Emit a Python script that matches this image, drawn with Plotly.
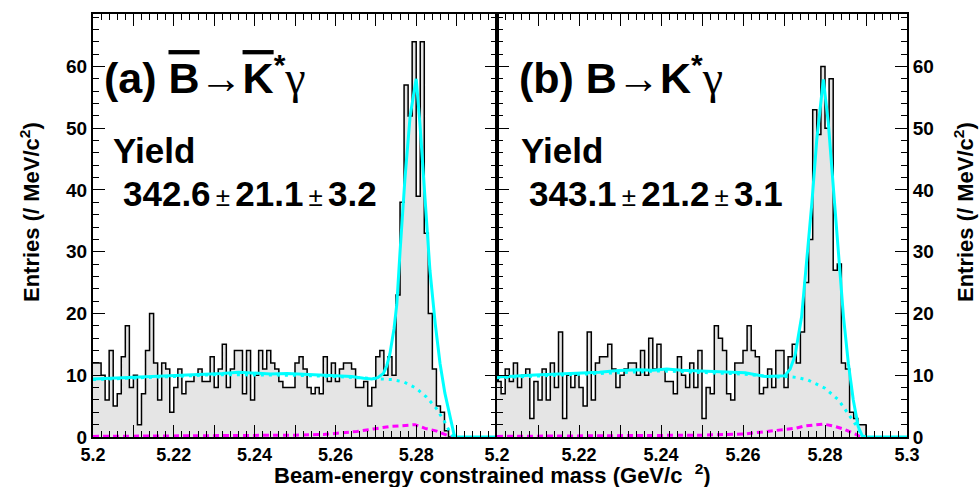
import plotly.graph_objects as go

# ---------------- data ----------------
bin_start = 5.200
bin_width = 0.001

counts_a = [12, 12, 10, 6, 14, 5, 7, 13, 18, 8,
            10, 2, 7, 14, 20, 12, 6, 12, 11, 4,
            8, 11, 7, 9, 9, 10, 11, 9, 9, 13,
            8, 11, 15, 8, 11, 14, 14, 7, 14, 6,
            10, 14, 11, 14, 12, 11, 9, 8, 8, 8,
            12, 13, 11, 8, 7, 8, 7, 13, 9, 12,
            9, 11, 12, 12, 11, 8, 8, 9, 5, 8,
            13, 14, 10, 13, 10, 23, 38, 57, 52, 64,
            39, 64, 33, 20, 11, 5, 4, 1, 0, 0,
            0, 0, 0, 0, 0, 0, 0, 0, 0, 0]

counts_b = [9, 7, 11, 9, 12, 8, 10, 11, 3, 9,
            6, 11, 6, 12, 8, 17, 3, 10, 8, 10,
            8, 5, 17, 6, 12, 13, 13, 15, 11, 8,
            10, 11, 12, 12, 10, 14, 10, 16, 11, 15,
            11, 9, 9, 7, 13, 10, 8, 12, 8, 14,
            3, 8, 7, 18, 16, 14, 7, 6, 12, 12,
            14, 18, 14, 13, 7, 8, 11, 8, 14, 14,
            8, 13, 15, 12, 17, 25, 32, 53, 49, 60,
            50, 58, 27, 28, 12, 11, 4, 3, 2, 2,
            0, 0, 0, 0, 0, 0, 0, 0, 0, 0]

# total fit (solid cyan)
fit_a_x = [5.2000, 5.2040, 5.2080, 5.2120, 5.2160, 5.2200, 5.2240, 5.2280, 5.2320, 5.2360,
           5.2400, 5.2440, 5.2480, 5.2520, 5.2560, 5.2600, 5.2640, 5.2670, 5.2690, 5.2705,
           5.2719, 5.2727, 5.2735, 5.2745, 5.2752, 5.2760, 5.2772, 5.2785, 5.2800, 5.2809,
           5.2822, 5.2834, 5.2847, 5.2859, 5.2871, 5.2884, 5.2894, 5.2900, 5.3000]
fit_a_y = [9.4, 9.5, 9.6, 9.7, 9.9, 10.0, 10.1, 10.2, 10.3, 10.5,
           10.3, 10.2, 10.3, 10.2, 10.0, 9.9, 9.8, 9.5, 9.4, 9.6,
           10.3, 11.5, 13.5, 17.5, 21.5, 30.0, 41.7, 52.0, 58.0, 50.9,
           39.0, 27.0, 18.4, 11.9, 7.1, 3.3, 0.3, 0.0, 0.0]
fit_b_x = [5.2000, 5.2040, 5.2093, 5.2150, 5.2198, 5.2250, 5.2296, 5.2345, 5.2380, 5.2414,
           5.2450, 5.2483, 5.2550, 5.2605, 5.2654, 5.2686, 5.2702, 5.2715, 5.2727, 5.2743,
           5.2755, 5.2768, 5.2780, 5.2796, 5.2808, 5.2820, 5.2833, 5.2845, 5.2857, 5.2869,
           5.2881, 5.2891, 5.2900, 5.3000]
fit_b_y = [9.7, 9.8, 10.05, 10.2, 10.3, 10.5, 10.75, 10.9, 10.8, 11.0,
           10.8, 10.7, 10.6, 10.4, 9.8, 9.8, 9.9, 11.0, 13.2, 19.5,
           28.0, 37.9, 48.2, 57.9, 50.9, 40.6, 29.2, 19.5, 11.9, 6.0,
           1.7, 0.15, 0.0, 0.0]

# combinatorial background (dotted cyan)
bkg_a_x = [5.200, 5.210, 5.220, 5.230, 5.240, 5.250, 5.260, 5.265, 5.270, 5.274,
           5.277, 5.280, 5.2825, 5.285, 5.287, 5.2885, 5.2892]
bkg_a_y = [9.3, 9.5, 9.8, 10.1, 10.1, 10.0, 9.8, 9.6, 9.4, 9.3,
           8.9, 7.9, 6.5, 4.6, 2.5, 0.6, 0.0]
bkg_b_x = [5.200, 5.220, 5.240, 5.260, 5.268, 5.2711, 5.2735, 5.2759, 5.2780, 5.2800,
           5.2833, 5.2857, 5.2876, 5.2892]
bkg_b_y = [9.6, 10.2, 10.7, 10.2, 9.7, 9.8, 9.6, 9.2, 8.6, 7.9,
           6.0, 3.8, 1.9, 0.0]

# peaking background (dashed magenta)
peak_a_x = [5.200, 5.220, 5.240, 5.250, 5.257, 5.2611, 5.2653, 5.2694, 5.2735, 5.2760,
            5.2797, 5.2822, 5.2851, 5.2876, 5.2888]
peak_a_y = [0.1, 0.15, 0.25, 0.3, 0.4, 0.6, 0.9, 1.3, 1.7, 1.8,
            2.0, 1.4, 0.95, 0.3, 0.0]
peak_b_x = [5.200, 5.220, 5.240, 5.250, 5.2605, 5.2678, 5.2727, 5.2751, 5.2796, 5.2825,
            5.2849, 5.2873, 5.2888]
peak_b_y = [0.1, 0.15, 0.25, 0.3, 0.5, 1.1, 1.4, 1.8, 2.1, 1.7,
            1.2, 0.5, 0.0]

x_tick_vals = [5.20, 5.21, 5.22, 5.23, 5.24, 5.25, 5.26, 5.27, 5.28, 5.29, 5.30]
x_tick_text_a = ["5.2", " ", "5.22", " ", "5.24", " ", "5.26", " ", "5.28", " ", " "]
x_tick_text_b = ["5.2", " ", "5.22", " ", "5.24", " ", "5.26", " ", "5.28", " ", "5.3"]
y_tick_vals = [0, 10, 20, 30, 40, 50, 60]

# ---------------- figure ----------------
W, H = 979, 487
def px(x):
    return x / W
def py(y):
    return 1 - y / H

edges = [bin_start + bin_width * i for i in range(len(counts_a) + 1)]

fig = go.Figure()
CYAN = "#00ffff"
MAG = "#ff00ff"

for counts, fx, fy, bx, by, mx, my, xa, ya in [
        (counts_a, fit_a_x, fit_a_y, bkg_a_x, bkg_a_y, peak_a_x, peak_a_y, "x", "y"),
        (counts_b, fit_b_x, fit_b_y, bkg_b_x, bkg_b_y, peak_b_x, peak_b_y, "x2", "y2")]:
    fig.add_trace(go.Scatter(x=edges, y=counts + [counts[-1]], mode="lines",
                             line=dict(shape="hv", color="black", width=1.5),
                             fill="tozeroy", fillcolor="#e5e5e5",
                             xaxis=xa, yaxis=ya, showlegend=False, hoverinfo="skip"))
    fig.add_trace(go.Scatter(x=mx, y=my, mode="lines",
                             line=dict(color=MAG, width=3, dash="6px,4px"),
                             xaxis=xa, yaxis=ya, showlegend=False))
    fig.add_trace(go.Scatter(x=bx, y=by, mode="lines",
                             line=dict(color=CYAN, width=3, dash="3px,5px"),
                             xaxis=xa, yaxis=ya, showlegend=False))
    fig.add_trace(go.Scatter(x=fx, y=fy, mode="lines",
                             line=dict(color=CYAN, width=3),
                             xaxis=xa, yaxis=ya, showlegend=False))

tickfont = dict(family="Liberation Sans", size=18, color="black", weight="bold")
x_common = dict(range=[5.2, 5.3], tickvals=x_tick_vals, ticks="inside", ticklen=12,
                tickwidth=1.2, tickcolor="black", showline=True, linewidth=2,
                linecolor="black", mirror="ticks", showgrid=False, zeroline=False,
                tickfont=tickfont, automargin=False, ticklabelstandoff=0,
                minor=dict(dtick=0.002, tick0=5.2, ticks="inside", ticklen=6,
                           tickwidth=1.2, tickcolor="black", showgrid=False))
y_common = dict(range=[0, 68.5], tickvals=y_tick_vals, ticks="inside", ticklen=12,
                tickwidth=1.2, tickcolor="black", showline=True, linewidth=2,
                linecolor="black", mirror="ticks", showgrid=False, zeroline=False,
                tickfont=dict(family="Liberation Sans", size=19, color="black", weight="bold"),
                automargin=False,
                minor=dict(dtick=2, tick0=0, ticks="inside", ticklen=6,
                           tickwidth=1.2, tickcolor="black", showgrid=False))

x0, xm, x1 = 93, 497, 907
ytop, ybot = 14, 437
fig.update_layout(
    width=W, height=H, margin=dict(l=0, r=0, t=0, b=0, autoexpand=False),
    paper_bgcolor="white", plot_bgcolor="white",
    xaxis=dict(domain=[px(x0), px(xm)], anchor="y", ticktext=x_tick_text_a, **x_common),
    xaxis2=dict(domain=[px(xm), px(x1)], anchor="y2", ticktext=x_tick_text_b, **x_common),
    yaxis=dict(domain=[py(ybot), py(ytop)], anchor="x", side="left", **y_common),
    yaxis2=dict(domain=[py(ybot), py(ytop)], anchor="x2", side="right", **y_common),
)

bold = dict(family="Liberation Sans", color="black")
ann = []
def add(text, x, y, size, xanchor="left", angle=0, yanchor="middle"):
    ann.append(dict(text=text, x=px(x), y=py(y), xref="paper", yref="paper",
                    xanchor=xanchor, yanchor=yanchor, showarrow=False, textangle=angle,
                    font=dict(size=size, **bold)))

ov = "<span style='text-decoration:overline'>%s</span>"
arrow = "<span style='font-family:Liberation Serif;font-weight:normal'>→</span>"
gam = "<span style='font-family:Liberation Serif;font-weight:normal;font-size:46px'>γ</span>"
pm = "<span style='font-weight:normal;font-size:26px'>\u2009±\u2009</span>"

add("<b>(a) " + ov % "B" + "</b>" + arrow + "<b>" + ov % "K" + "<sup>*</sup></b>" + gam, 102, 75, 43)
add("<b>Yield</b>", 111, 150, 35)
add("<b>342.6</b>" + pm + "<b>21.1</b>" + pm + "<b>3.2</b>", 121, 193, 35)
add("<b>(b) B</b>" + arrow + "<b>K<sup>*</sup></b>" + gam, 517, 75, 43)
add("<b>Yield</b>", 519, 150, 35)
add("<b>343.1</b>" + pm + "<b>21.2</b>" + pm + "<b>3.1</b>", 527, 193, 35)

add("<b>Beam-energy constrained mass (GeV/c  <sup>2</sup>)</b>", 493, 474, 22, xanchor="center")
add("<b>Entries (/ MeV/c<sup>2</sup>)</b>", 30, 212, 22, xanchor="center", angle=-90)
add("<b>Entries (/ MeV/c<sup>2</sup>)</b>", 964, 212, 22, xanchor="center", angle=-90)
fig.update_layout(annotations=ann)

fig.write_html("out.html")
